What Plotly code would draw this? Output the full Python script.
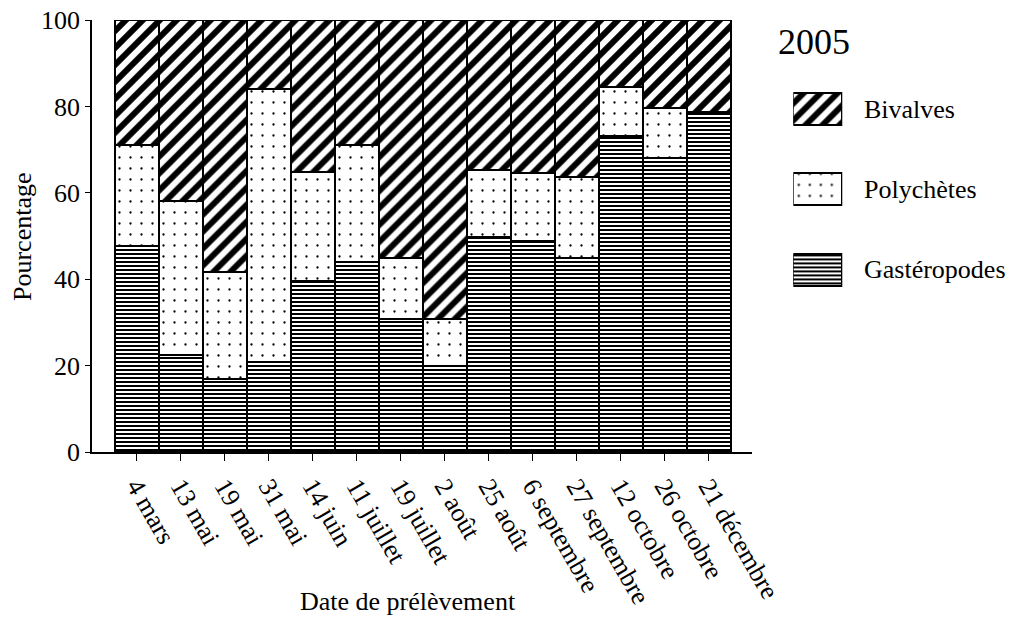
import plotly.graph_objects as go

# ---- data -------------------------------------------------------------
dates = ["4 mars", "13 mai", "19 mai", "31 mai", "14 juin", "11 juillet",
         "19 juillet", "2 août", "25 août", "6 septembre", "27 septembre",
         "12 octobre", "26 octobre", "21 décembre"]
gasteropodes = [47.6, 22.4, 16.9, 20.9, 39.6, 43.9, 30.8, 20.0, 49.7, 48.8,
                44.8, 73.2, 68.1, 78.8]
polychetes = [23.4, 35.6, 24.8, 63.2, 25.3, 27.1, 14.0, 10.8, 15.5, 15.7,
              18.9, 11.4, 11.5, 0.0]
bivalves = [29.0, 42.0, 58.3, 15.9, 35.1, 29.0, 55.2, 69.2, 34.8, 35.5,
            36.3, 15.4, 20.4, 21.2]
series_names = ["Gastéropodes", "Polychètes", "Bivalves"]
y_ticks = [0, 20, 40, 60, 80, 100]
year_label = "2005"
x_title = "Date de prélèvement"
y_title = "Pourcentage"

# ---- styles -----------------------------------------------------------
FONT = "Liberation Serif, Times New Roman, serif"
patterns = {
    "Gastéropodes": dict(shape="-", size=4, solidity=0.5, fgcolor="black",
                         bgcolor="white", fillmode="replace", fgopacity=1),
    "Polychètes": dict(shape=".", size=11, solidity=0.035, fgcolor="black",
                       bgcolor="white", fillmode="replace", fgopacity=1),
    "Bivalves": dict(shape="/", size=12, solidity=0.5, fgcolor="black",
                     bgcolor="white", fillmode="replace", fgopacity=1),
}
values = {"Gastéropodes": gasteropodes, "Polychètes": polychetes,
          "Bivalves": bivalves}

fig = go.Figure()

for name in series_names:
    fig.add_trace(go.Bar(
        x=dates, y=values[name], name=name, showlegend=False,
        marker=dict(color="white", pattern=patterns[name],
                    line=dict(color="black", width=2)),
        xaxis="x", yaxis="y",
    ))

# legend swatches drawn as bars on a small hidden axis pair
for name in series_names:
    fig.add_trace(go.Bar(
        x=[1], y=[name], orientation="h", width=0.4, showlegend=False,
        marker=dict(color="white", pattern=patterns[name],
                    line=dict(color="black", width=2)),
        xaxis="x2", yaxis="y2", hoverinfo="skip",
    ))
    fig.add_annotation(x=0.8477, xref="paper", y=name, yref="y2",
                       text=name, showarrow=False, xanchor="left",
                       yanchor="middle", font=dict(family=FONT, size=26,
                                                   color="black"))

fig.add_annotation(x=0.7952, xref="paper", y=0.9498, yref="paper",
                   text=year_label, showarrow=False, xanchor="center",
                   yanchor="middle",
                   font=dict(family=FONT, size=36, color="black"))
fig.add_annotation(x=0.348, xref="paper", y=-0.347, yref="paper",
                   text=x_title, showarrow=False, xanchor="center",
                   yanchor="middle",
                   font=dict(family=FONT, size=26, color="black"))
fig.add_annotation(x=-0.0771, xref="paper", y=0.5, yref="paper",
                   text=y_title, showarrow=False, textangle=-90,
                   xanchor="center", yanchor="middle",
                   font=dict(family=FONT, size=26, color="black"))

fig.update_layout(
    width=1020, height=622,
    margin=dict(l=92, r=20, t=20, b=170, autoexpand=False),
    barmode="stack", bargap=0,
    paper_bgcolor="white", plot_bgcolor="white",
    font=dict(family=FONT, size=26, color="black"),
    xaxis=dict(domain=[0, 0.72687], type="category", range=[-1.02, 13.98],
               showline=True, linecolor="black", linewidth=1.5,
               ticks="outside", ticklen=7, tickwidth=1, tickcolor="black",
               tickangle=60, showgrid=False, zeroline=False,
               tickfont=dict(family=FONT, size=26, color="black")),
    yaxis=dict(range=[0, 100], tickvals=y_ticks, showline=True,
               linecolor="black", linewidth=1.5, ticks="outside",
               ticklen=5, tickwidth=1, tickcolor="black", showgrid=False,
               zeroline=False,
               tickfont=dict(family=FONT, size=26, color="black")),
    xaxis2=dict(domain=[0.7724, 0.8263], range=[0, 1], visible=False,
                anchor="y2", fixedrange=True),
    yaxis2=dict(domain=[0.3285, 0.8856], type="category",
                categoryorder="array", categoryarray=series_names,
                range=[-0.5, 2.5], visible=False, anchor="x2"),
    showlegend=False,
)

fig.write_html("out.html",
               config={"displayModeBar": False},
               post_script="document.body.style.margin='0';")
